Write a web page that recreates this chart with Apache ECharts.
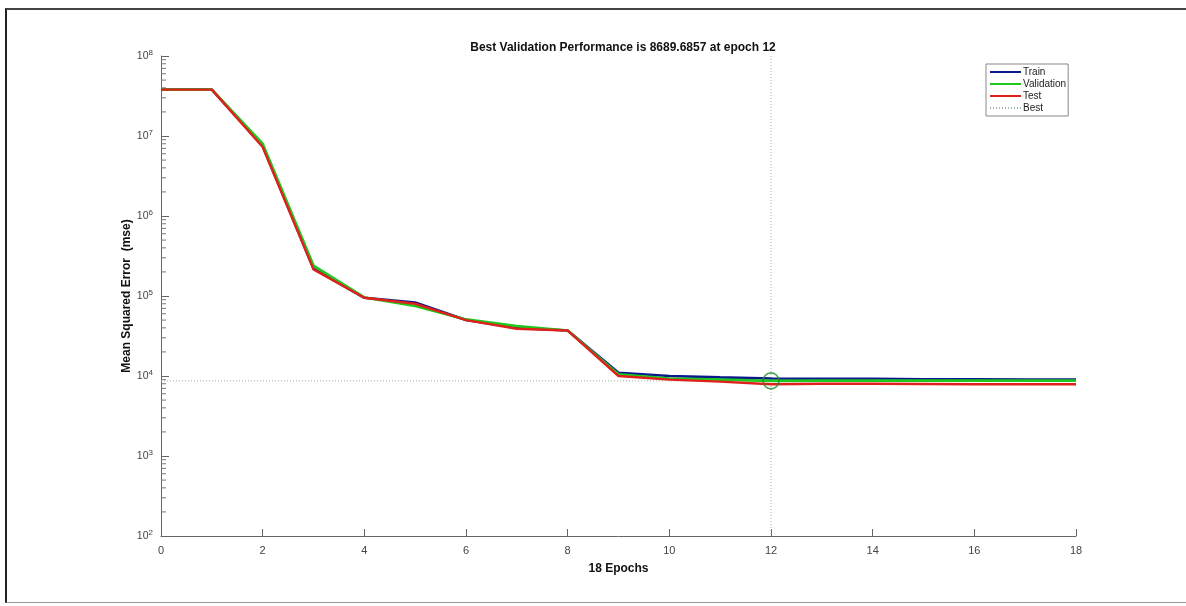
<!DOCTYPE html>
<html>
<head>
<meta charset="utf-8">
<script src="https://cdn.jsdelivr.net/npm/echarts@6/dist/echarts.min.js"></script>
<style>
  html, body { margin: 0; padding: 0; background: #fff; }
  #frame {
    position: absolute; left: 5px; top: 8px; width: 1190px; height: 595px;
    border-left: 2px solid #222; border-top: 2px solid #444; border-bottom: 1px solid #999;
    box-sizing: border-box;
  }
  #chart { position: absolute; left: 0; top: 0; width: 1186px; height: 606px; }
</style>
</head>
<body>
<div id="frame"></div>
<div id="chart"></div>
<script>
// epochs 0..18
const epochs = [0, 1, 2, 3, 4, 5, 6, 7, 8, 9, 10, 11, 12, 13, 14, 15, 16, 17, 18];
const trainMse = [3.8e7, 3.8e7, 7.5e6, 2.2e5, 9.5e4, 8.3e4, 5.0e4, 4.0e4, 3.7e4, 1.1e4, 1.0e4, 9.6e3, 9.3e3, 9.2e3, 9.2e3, 9.1e3, 9.1e3, 9.0e3, 9.0e3];
const validMse = [3.8e7, 3.8e7, 8.0e6, 2.4e5, 9.6e4, 7.5e4, 5.1e4, 4.2e4, 3.7e4, 1.05e4, 9.3e3, 9.0e3, 8689.6857, 8.75e3, 8.75e3, 8.75e3, 8.75e3, 8.75e3, 8.75e3];
const testMse = [3.8e7, 3.8e7, 7.3e6, 2.15e5, 9.5e4, 8.0e4, 5.0e4, 3.9e4, 3.7e4, 1.0e4, 9.0e3, 8.5e3, 7.9e3, 8.0e3, 8.0e3, 7.95e3, 7.9e3, 7.9e3, 7.9e3];
const bestEpoch = 12;
const bestPerf = 8689.6857;
const xTicks = [0, 2, 4, 6, 8, 10, 12, 14, 16, 18];
const yDecades = [2, 3, 4, 5, 6, 7, 8];

// minor tick values 2..9 x 10^k for the log axis
const minorTicks = [];
for (let k = 2; k < 8; k++) {
  for (let m = 2; m <= 9; m++) minorTicks.push(m * Math.pow(10, k));
}

const pair = arr => epochs.map((e, i) => [e, arr[i]]);
const font = '"Liberation Sans", Arial, sans-serif';

const chart = echarts.init(document.getElementById('chart'));
chart.setOption({
  animation: false,
  title: {
    text: 'Best Validation Performance is 8689.6857 at epoch 12',
    left: 618, top: 37, textAlign: 'center',
    textStyle: { fontSize: 12, fontWeight: 'bold', color: '#111', fontFamily: font }
  },
  legend: {
    data: ['Train', 'Validation', 'Test', 'Best'],
    orient: 'vertical', left: 986, top: 64,
    borderColor: '#888', borderWidth: 1, borderRadius: 0,
    padding: [3, 2, 3, 3], itemGap: 2, itemWidth: 31, itemHeight: 11,
    itemStyle: { opacity: 0 },
    textStyle: { fontSize: 10, color: '#222', fontFamily: font, padding: [0, 0, 0, -3] }
  },
  grid: { left: 161, right: 110, top: 56, bottom: 70 },
  xAxis: {
    type: 'value', min: 0, max: 18, interval: 2,
    name: '18 Epochs', nameLocation: 'middle', nameGap: 27,
    nameTextStyle: { fontSize: 12, fontWeight: 'bold', color: '#111', fontFamily: font },
    axisLine: { lineStyle: { color: '#666', width: 1 } },
    axisTick: { inside: true, length: 7, lineStyle: { color: '#666' } },
    axisLabel: { fontSize: 11, color: '#444', fontFamily: font, margin: 9,
      formatter: v => xTicks.includes(v) ? String(v) : '' },
    splitLine: { show: false }
  },
  yAxis: {
    type: 'log', logBase: 10, min: 100, max: 1e8,
    name: 'Mean Squared Error  (mse)', nameLocation: 'middle', nameGap: 28,
    nameMoveOverlap: false,
    nameTextStyle: { fontSize: 12, fontWeight: 'bold', color: '#111', fontFamily: font },
    axisLine: { show: true, lineStyle: { color: '#666', width: 1 } },
    axisTick: { show: true, inside: true, length: 8, lineStyle: { color: '#666' } },
    axisLabel: {
      margin: 8, color: '#444', fontFamily: font,
      formatter: v => {
        const e = Math.round(Math.log10(v));
        return yDecades.includes(e) ? '{b|10}{s|' + e + '}' : '';
      },
      rich: {
        b: { fontSize: 10.5, color: '#444', fontFamily: font },
        s: { fontSize: 8, color: '#444', fontFamily: font, verticalAlign: 'bottom', padding: [0, 0, 7, 0] }
      }
    },
    splitLine: { show: false }
  },
  series: [
    {
      name: 'minor', type: 'custom', silent: true, z: 1,
      data: minorTicks.map(v => [0, v]),
      renderItem: (params, api) => {
        const p = api.coord([0, api.value(1)]);
        return { type: 'line', shape: { x1: p[0], y1: p[1], x2: p[0] + 5, y2: p[1] },
          style: { stroke: '#777', lineWidth: 1 } };
      }
    },
    {
      name: 'Best', type: 'line', symbol: 'none', z: 1,
      data: [[0, bestPerf], [bestEpoch, bestPerf]],
      lineStyle: { color: '#9db3a3', width: 1, type: [1, 2] }
    },
    {
      name: 'Best', type: 'line', symbol: 'none', z: 1,
      data: [[bestEpoch, 1e8], [bestEpoch, 100]],
      lineStyle: { color: '#9db3a3', width: 1, type: [1, 2] }
    },
    {
      name: 'Train', type: 'line', symbol: 'none', z: 2,
      data: pair(trainMse),
      lineStyle: { color: '#0a1a8c', width: 2.6 }, itemStyle: { color: '#0a1a8c' }
    },
    {
      name: 'Validation', type: 'line', symbol: 'none', z: 3,
      data: pair(validMse),
      lineStyle: { color: '#1ec81e', width: 2.6 }, itemStyle: { color: '#1ec81e' }
    },
    {
      name: 'Test', type: 'line', symbol: 'none', z: 4,
      data: pair(testMse),
      lineStyle: { color: '#e0201a', width: 2.4 }, itemStyle: { color: '#e0201a' }
    },
    {
      name: 'bestPoint', type: 'scatter', z: 5, silent: true,
      data: [[bestEpoch, bestPerf]],
      symbol: 'circle', symbolSize: 16,
      itemStyle: { color: 'rgba(0,0,0,0)', borderColor: '#1f8a2a', borderWidth: 1.6 }
    }
  ]
});
</script>
</body>
</html>
